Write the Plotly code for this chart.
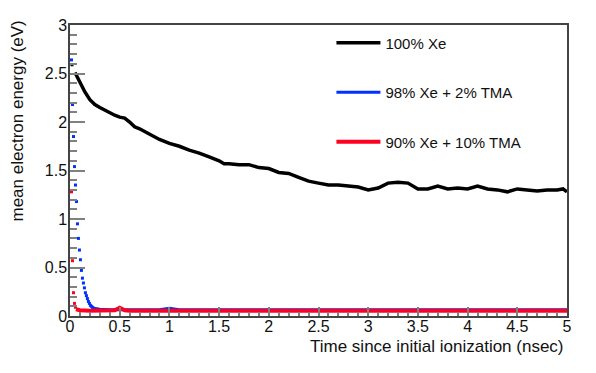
import plotly.graph_objects as go

# 100% Xe (black)
black_early_x = [0.02]
black_early_y = [2.59]
black_x = [0.05, 0.1, 0.15, 0.2, 0.25, 0.3, 0.35, 0.4, 0.45, 0.5, 0.55, 0.6, 0.65, 0.7,
           0.8, 0.9, 1.0, 1.1, 1.2, 1.3, 1.4, 1.5, 1.55, 1.6, 1.7, 1.8, 1.9, 2.0, 2.1,
           2.2, 2.3, 2.4, 2.5, 2.6, 2.7, 2.8, 2.9, 3.0, 3.1, 3.2, 3.3, 3.4, 3.5, 3.6,
           3.7, 3.8, 3.9, 4.0, 4.1, 4.2, 4.3, 4.4, 4.5, 4.6, 4.7, 4.8, 4.9, 4.96, 5.0]
black_y = [2.51, 2.40, 2.31, 2.23, 2.18, 2.15, 2.12, 2.09, 2.07, 2.05, 2.04, 2.00, 1.95, 1.93,
           1.87, 1.82, 1.78, 1.75, 1.71, 1.68, 1.64, 1.60, 1.57, 1.57, 1.56, 1.56, 1.53, 1.52, 1.48,
           1.47, 1.43, 1.39, 1.37, 1.35, 1.35, 1.34, 1.33, 1.30, 1.32, 1.37, 1.38, 1.37, 1.31, 1.31,
           1.34, 1.31, 1.32, 1.31, 1.34, 1.31, 1.30, 1.28, 1.31, 1.30, 1.29, 1.30, 1.30, 1.31, 1.28]

# 98% Xe + 2% TMA (blue)
blue_early_x = [0.015, 0.025, 0.035, 0.045, 0.055, 0.065, 0.075, 0.085, 0.095, 0.105, 0.115,
                0.125, 0.135, 0.145, 0.155, 0.165, 0.175, 0.185, 0.195, 0.205, 0.215, 0.225, 0.235]
blue_early_y = [2.64, 2.18, 1.85, 1.54, 1.35, 1.18, 0.95, 0.80, 0.68, 0.58, 0.47,
                0.39, 0.34, 0.29, 0.24, 0.21, 0.18, 0.15, 0.13, 0.11, 0.10, 0.09, 0.08]
blue_x = [0.24, 0.3, 0.4, 0.5, 0.6, 0.7, 0.8, 0.9, 1.0, 1.1, 1.2, 1.3, 1.4, 1.5, 1.6, 1.7,
          1.8, 1.9, 2.0, 2.1, 2.2, 2.3, 2.4, 2.5, 2.6, 2.7, 2.8, 2.9, 3.0, 3.1, 3.2, 3.3,
          3.4, 3.5, 3.6, 3.7, 3.8, 3.9, 4.0, 4.1, 4.2, 4.3, 4.4, 4.5, 4.6, 4.7, 4.8, 4.9, 5.0]
blue_y = [0.08, 0.07, 0.065, 0.065, 0.065, 0.065, 0.065, 0.065, 0.08, 0.065, 0.065, 0.065, 0.065,
          0.065, 0.065, 0.065, 0.065, 0.065, 0.065, 0.065, 0.065, 0.065, 0.065, 0.065, 0.065, 0.065,
          0.065, 0.065, 0.065, 0.065, 0.065, 0.065, 0.065, 0.065, 0.065, 0.065, 0.07, 0.065, 0.065,
          0.065, 0.07, 0.065, 0.065, 0.065, 0.065, 0.065, 0.065, 0.065, 0.065]

# 90% Xe + 10% TMA (red)
red_early_x = [0.015, 0.025, 0.035, 0.045, 0.055]
red_early_y = [1.28, 0.57, 0.24, 0.13, 0.09]
red_x = [0.06, 0.1, 0.2, 0.3, 0.4, 0.45, 0.5, 0.55, 0.6, 0.7, 0.8, 0.9, 1.0, 1.1, 1.2, 1.3,
         1.4, 1.5, 1.6, 1.7, 1.8, 1.9, 2.0, 2.1, 2.2, 2.3, 2.4, 2.5, 2.6, 2.7, 2.8, 2.9,
         3.0, 3.1, 3.2, 3.3, 3.4, 3.5, 3.6, 3.7, 3.8, 3.9, 4.0, 4.1, 4.2, 4.3, 4.4, 4.5,
         4.6, 4.7, 4.8, 4.9, 5.0]
red_y = [0.07, 0.06, 0.055, 0.055, 0.06, 0.06, 0.085, 0.06, 0.055, 0.055, 0.055, 0.055, 0.055,
         0.055, 0.055, 0.055, 0.055, 0.055, 0.06, 0.055, 0.055, 0.055, 0.055, 0.055, 0.06, 0.055,
         0.055, 0.055, 0.055, 0.055, 0.055, 0.055, 0.055, 0.055, 0.055, 0.055, 0.055, 0.055, 0.055,
         0.055, 0.06, 0.055, 0.055, 0.055, 0.055, 0.06, 0.055, 0.055, 0.055, 0.055, 0.055, 0.055, 0.055]

names = ["100% Xe", "98% Xe + 2% TMA", "90% Xe + 10% TMA"]
colors = ["#000000", "#0030ff", "#ff0020"]
widths = [3.5, 3, 4]
series = [(black_early_x, black_early_y, black_x, black_y),
          (blue_early_x, blue_early_y, blue_x, blue_y),
          (red_early_x, red_early_y, red_x, red_y)]

fig = go.Figure()
for name, col, w, (ex, ey, tx, ty) in zip(names, colors, widths, series):
    fig.add_trace(go.Scatter(x=ex, y=ey, mode="markers", showlegend=False, legendgroup=name,
                             marker=dict(symbol="square", size=3, color=col, line=dict(width=0))))
    fig.add_trace(go.Scatter(x=tx, y=ty, mode="lines", name=name, legendgroup=name,
                             line=dict(color=col, width=w)))

font_family = "Liberation Sans, Arial"
axis_common = dict(showgrid=False, zeroline=False, showline=True, linecolor="#444",
                   linewidth=1.5, mirror=True, ticks="inside", tickcolor="#808080",
                   tickwidth=2, tickfont=dict(family=font_family, size=16, color="#111"))

fig.update_xaxes(range=[0, 5], dtick=0.5, tick0=0, ticklen=9, ticklabelstandoff=-5,
                 minor=dict(dtick=0.1, ticklen=4.5, ticks="inside", tickcolor="#808080", tickwidth=2),
                 **axis_common)
fig.update_yaxes(range=[0, 3], dtick=0.5, tick0=0, ticklen=15, ticklabelstandoff=-2,
                 minor=dict(dtick=0.1, ticklen=7.5, ticks="inside", tickcolor="#808080", tickwidth=2),
                 **axis_common)

fig.add_annotation(text="mean electron energy (eV)", textangle=-90, xref="paper", yref="paper",
                   x=0, xshift=-53, y=1, yshift=6, yanchor="top", xanchor="center", showarrow=False,
                   font=dict(family=font_family, size=17, color="#111"))
fig.add_annotation(text="Time since initial ionization (nsec)", xref="paper", yref="paper",
                   x=1, xshift=-1, y=0, yshift=-30, xanchor="right", yanchor="middle", showarrow=False,
                   font=dict(family=font_family, size=17, color="#111"))

# the page body has an 8px margin, so the figure is shifted by 8px; compensate in size/margins
fig.update_layout(
    width=588, height=365,
    margin=dict(l=62, r=29, t=9, b=57),
    plot_bgcolor="white", paper_bgcolor="white",
    legend=dict(x=0.526, y=0.995, xanchor="left", yanchor="top", bgcolor="rgba(0,0,0,0)",
                font=dict(family=font_family, size=15, color="#111"), itemwidth=44,
                tracegroupgap=27, traceorder="grouped"),
)

fig.write_html("out.html")
